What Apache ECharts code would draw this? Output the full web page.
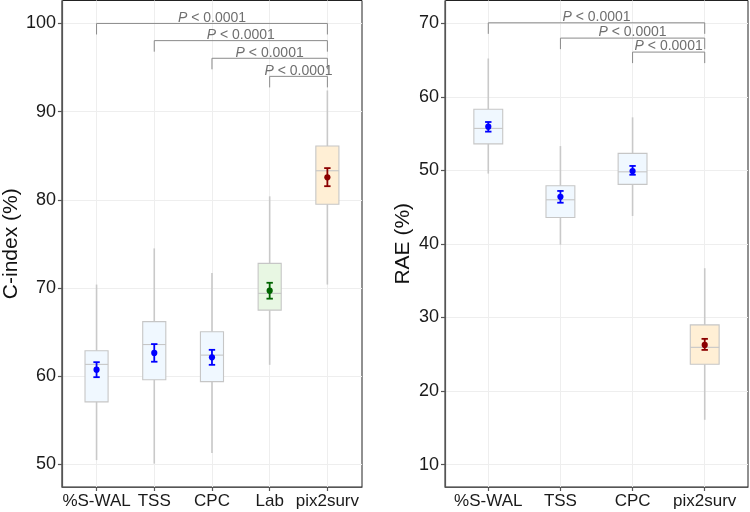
<!DOCTYPE html>
<html><head><meta charset="utf-8">
<script src="https://cdn.jsdelivr.net/npm/echarts@6/dist/echarts.min.js"></script>
<style>html,body{margin:0;padding:0;background:#fff}#c{width:750px;height:512px}</style>
</head><body><div id="c"></div>
<script>
// ---------- C-index panel data ----------
const cCategories = ['%S-WAL', 'TSS', 'CPC', 'Lab', 'pix2surv'];
const cWhiskerLow  = [50.5, 50.1, 51.3, 61.3, 70.4];
const cQ1          = [57.1, 59.6, 59.4, 67.5, 79.5];
const cMedian      = [61.35, 63.6, 62.4, 69.4, 83.3];
const cQ3          = [62.9, 66.2, 65.05, 72.8, 86.1];
const cWhiskerHigh = [70.4, 74.5, 71.7, 80.4, 92.4];
const cMean        = [60.75, 62.65, 62.15, 69.7, 82.55];
const cErrLow      = [59.9, 61.65, 61.3, 68.8, 81.55];
const cErrHigh     = [61.6, 63.65, 63.0, 70.6, 83.6];
const cYTicks      = [50, 60, 70, 80, 90, 100];
const cBracketFrom = [0, 1, 2, 3];
const cBracketTo   = [4, 4, 4, 4];
const cBracketY    = [100, 98.05, 96.05, 94.0];
const cBracketLabels = ['P < 0.0001', 'P < 0.0001', 'P < 0.0001', 'P < 0.0001'];
const cBracketTip  = 1.25;
const cYMin = 47.45, cYMax = 102.6;

// ---------- RAE panel data ----------
const rCategories = ['%S-WAL', 'TSS', 'CPC', 'pix2surv'];
const rWhiskerLow  = [49.56, 39.9, 43.8, 16.1];
const rQ1          = [53.6, 43.6, 48.1, 23.65];
const rMedian      = [55.7, 46.0, 49.8, 25.95];
const rQ3          = [58.3, 47.9, 52.3, 29.0];
const rWhiskerHigh = [65.2, 53.3, 57.2, 36.7];
const rMean        = [55.94, 46.4, 49.9, 26.27];
const rErrLow      = [55.26, 45.6, 49.4, 25.6];
const rErrHigh     = [56.57, 47.2, 50.6, 27.1];
const rYTicks      = [10, 20, 30, 40, 50, 60, 70];
const rBracketFrom = [0, 1, 2];
const rBracketTo   = [3, 3, 3];
const rBracketY    = [70.05, 67.97, 66.07];
const rBracketLabels = ['P < 0.0001', 'P < 0.0001', 'P < 0.0001'];
const rBracketTip  = 1.5;
const rYMin = 6.97, rYMax = 73.08;

// ---------- styles ----------
const FONT = '"Liberation Sans", Arial, Helvetica, sans-serif';
const groupStyle = {
  base: { fill: '#F0F8FF', dot: '#0000FF' },
  lab:  { fill: '#E8F7E3', dot: '#006400' },
  ours: { fill: '#FFEFD5', dot: '#8B0000' }
};
function styleFor(name) {
  if (name === 'Lab') return groupStyle.lab;
  if (name === 'pix2surv') return groupStyle.ours;
  return groupStyle.base;
}
const BOX_W = 0.4;

function boxData(cats, lo, q1, med, q3, hi) {
  return cats.map((c, i) => [i, lo[i], q1[i], med[i], q3[i], hi[i]]);
}
function meanData(cats, m, el, eh) {
  return cats.map((c, i) => [i, m[i], el[i], eh[i]]);
}
function bracketData(from, to, y, tip) {
  return from.map((f, i) => [f, to[i], y[i], tip, i]);
}

function renderBox(cats) {
  return function (params, api) {
    const x = api.value(0);
    const pLo = api.coord([x, api.value(1)]);
    const pQ1 = api.coord([x, api.value(2)]);
    const pMed = api.coord([x, api.value(3)]);
    const pQ3 = api.coord([x, api.value(4)]);
    const pHi = api.coord([x, api.value(5)]);
    const hw = api.size([BOX_W, 0])[0] / 2;
    const st = styleFor(cats[params.dataIndex]);
    return {
      type: 'group',
      children: [
        { type: 'line', shape: { x1: pLo[0], y1: pLo[1], x2: pQ1[0], y2: pQ1[1] }, style: { stroke: '#c9c9c9', lineWidth: 1.6 } },
        { type: 'line', shape: { x1: pQ3[0], y1: pQ3[1], x2: pHi[0], y2: pHi[1] }, style: { stroke: '#c9c9c9', lineWidth: 1.6 } },
        { type: 'rect', shape: { x: pQ3[0] - hw, y: pQ3[1], width: hw * 2, height: pQ1[1] - pQ3[1] }, style: { fill: st.fill, stroke: '#c6c6c6', lineWidth: 1.1 } },
        { type: 'line', shape: { x1: pMed[0] - hw, y1: pMed[1], x2: pMed[0] + hw, y2: pMed[1] }, style: { stroke: '#c6c6c6', lineWidth: 1.1 } }
      ]
    };
  };
}
function renderMean(cats) {
  return function (params, api) {
    const x = api.value(0);
    const pM = api.coord([x, api.value(1)]);
    const pL = api.coord([x, api.value(2)]);
    const pH = api.coord([x, api.value(3)]);
    const col = styleFor(cats[params.dataIndex]).dot;
    const cw = 3.2;
    return {
      type: 'group',
      children: [
        { type: 'line', shape: { x1: pL[0], y1: pL[1], x2: pH[0], y2: pH[1] }, style: { stroke: col, lineWidth: 1.8 } },
        { type: 'line', shape: { x1: pL[0] - cw, y1: pL[1], x2: pL[0] + cw, y2: pL[1] }, style: { stroke: col, lineWidth: 1.8 } },
        { type: 'line', shape: { x1: pH[0] - cw, y1: pH[1], x2: pH[0] + cw, y2: pH[1] }, style: { stroke: col, lineWidth: 1.8 } },
        { type: 'circle', shape: { cx: pM[0], cy: pM[1], r: 3.1 }, style: { fill: col } }
      ]
    };
  };
}
function renderBracket(labels) {
  return function (params, api) {
    const f = api.value(0), t = api.value(1), y = api.value(2), tip = api.value(3);
    const a = api.coord([f, y - tip]);
    const b = api.coord([f, y]);
    const c = api.coord([t, y]);
    const d = api.coord([t, y - tip]);
    return {
      type: 'group',
      children: [
        { type: 'polyline', shape: { points: [a, b, c, d] }, style: { stroke: '#8a8a8a', lineWidth: 1, fill: null } },
        {
          type: 'text', x: (b[0] + c[0]) / 2, y: b[1] + 1.5,
          style: {
            text: labels[params.dataIndex].replace(/^P/, '{i|P}'),
            rich: { i: { fontStyle: 'italic', fontSize: 14, fontFamily: FONT, fill: '#6f6f6f' } },
            fontSize: 14, fontFamily: FONT, fill: '#6f6f6f',
            align: 'center', verticalAlign: 'bottom'
          }
        }
      ]
    };
  };
}

function xAxisCfg(gridIndex, cats) {
  const idx = cats.map((c, i) => i);
  return {
    type: 'value', gridIndex, min: -0.6, max: cats.length - 0.4, splitNumber: 5,
    axisLine: { show: true, onZero: false, lineStyle: { color: '#555', width: 1.2 } },
    axisTick: { show: true, customValues: idx, length: 4, lineStyle: { color: '#555', width: 1.2 } },
    axisLabel: { customValues: idx, formatter: v => cats[Math.round(v)] || '', color: '#1a1a1a', fontSize: 17, fontFamily: FONT, margin: 6 },
    splitLine: { show: true, lineStyle: { color: '#eeeeee', width: 1 } }
  };
}
function yAxisCfg(gridIndex, min, max, ticks, name) {
  return {
    type: 'value', gridIndex, min, max, splitNumber: 5,
    name, nameLocation: 'middle', nameGap: 31,
    nameTextStyle: { fontSize: 21, color: '#111', fontFamily: FONT },
    axisLine: { show: true, onZero: false, lineStyle: { color: '#555', width: 1.2 } },
    axisTick: { show: true, customValues: ticks, length: 4, lineStyle: { color: '#555', width: 1.2 } },
    axisLabel: { customValues: ticks, color: '#1a1a1a', fontSize: 18, fontFamily: FONT, margin: 6 },
    splitLine: { show: true, lineStyle: { color: '#eeeeee', width: 1 } }
  };
}

const chart = echarts.init(document.getElementById('c'));
chart.setOption({
  animation: false,
  backgroundColor: '#ffffff',
  grid: [
    { left: 58.5, right: 388, top: 0.5, bottom: 25, show: true, borderColor: '#222', borderWidth: 1, backgroundColor: 'transparent' },
    { left: 445, right: 2, top: 0.5, bottom: 25, show: true, borderColor: '#222', borderWidth: 1, backgroundColor: 'transparent' }
  ],
  xAxis: [xAxisCfg(0, cCategories), xAxisCfg(1, rCategories)],
  yAxis: [
    yAxisCfg(0, cYMin, cYMax, cYTicks, 'C-index (%)'),
    yAxisCfg(1, rYMin, rYMax, rYTicks, 'RAE (%)')
  ],
  series: [
    { type: 'custom', xAxisIndex: 0, yAxisIndex: 0, renderItem: renderBox(cCategories), data: boxData(cCategories, cWhiskerLow, cQ1, cMedian, cQ3, cWhiskerHigh), encode: { x: 0, y: [1, 5] }, z: 2 },
    { type: 'custom', xAxisIndex: 0, yAxisIndex: 0, renderItem: renderMean(cCategories), data: meanData(cCategories, cMean, cErrLow, cErrHigh), encode: { x: 0, y: [1, 3] }, z: 3 },
    { type: 'custom', xAxisIndex: 0, yAxisIndex: 0, renderItem: renderBracket(cBracketLabels), data: bracketData(cBracketFrom, cBracketTo, cBracketY, cBracketTip), encode: { x: [0, 1], y: 2 }, z: 4, clip: false },
    { type: 'custom', xAxisIndex: 1, yAxisIndex: 1, renderItem: renderBox(rCategories), data: boxData(rCategories, rWhiskerLow, rQ1, rMedian, rQ3, rWhiskerHigh), encode: { x: 0, y: [1, 5] }, z: 2 },
    { type: 'custom', xAxisIndex: 1, yAxisIndex: 1, renderItem: renderMean(rCategories), data: meanData(rCategories, rMean, rErrLow, rErrHigh), encode: { x: 0, y: [1, 3] }, z: 3 },
    { type: 'custom', xAxisIndex: 1, yAxisIndex: 1, renderItem: renderBracket(rBracketLabels), data: bracketData(rBracketFrom, rBracketTo, rBracketY, rBracketTip), encode: { x: [0, 1], y: 2 }, z: 4, clip: false }
  ]
});
</script></body></html>
